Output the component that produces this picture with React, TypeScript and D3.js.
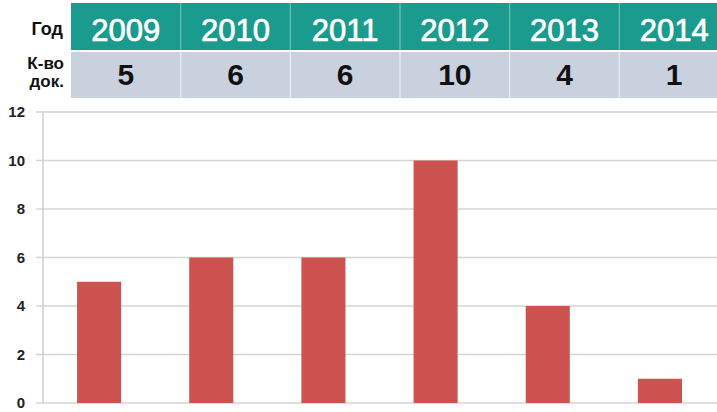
import React from "react";
import * as d3 from "d3";

const years = ["2009", "2010", "2011", "2012", "2013", "2014"];
const counts = [5, 6, 6, 10, 4, 1];
const yTicks = [0, 2, 4, 6, 8, 10, 12];
const rowLabels = ["Год", "К-во", "док."];

const W = 717;
const H = 412;

export default function App() {
  const x = d3
    .scaleBand<string>()
    .domain(years)
    .range([43, 716])
    .paddingInner(0.607)
    .paddingOuter(0.3035);
  const y = d3.scaleLinear().domain([0, 12]).range([403, 112]);
  const tx = d3.scaleBand<string>().domain(years).range([71, 729]);

  const font = "Arial, 'Liberation Sans', sans-serif";

  return (
    <svg
      width={W}
      height={H}
      style={{ position: "absolute", left: 0, top: 0, background: "#fff" }}
      fontFamily={font}
    >
      <rect x={0} y={0} width={W} height={H} fill="#fff" />
      {/* table */}
      <rect x={71} y={3} width={W - 71} height={47} fill="#1b9b8d" />
      <rect x={71} y={52} width={W - 71} height={46} fill="#c9d0de" />
      {years.map((yr, i) => (
        <g key={yr}>
          {i > 0 && (
            <>
              <line x1={tx(yr)!} x2={tx(yr)!} y1={3} y2={50} stroke="#5dbcb1" strokeWidth={1.5} />
              <line x1={tx(yr)!} x2={tx(yr)!} y1={52} y2={98} stroke="#e6eaf1" strokeWidth={1.5} />
            </>
          )}
          <text
            x={tx(yr)! + tx.bandwidth() / 2}
            y={41}
            textAnchor="middle"
            fill="#fff"
            stroke="#fff"
            strokeWidth={0.7}
            fontSize={31}
          >
            {yr}
          </text>
          <text
            x={tx(yr)! + tx.bandwidth() / 2}
            y={85}
            textAnchor="middle"
            fill="#111"
            fontSize={30}
            fontWeight="bold"
          >
            {counts[i]}
          </text>
        </g>
      ))}
      <text x={63} y={35} textAnchor="end" fontSize={18} fontWeight="bold" fill="#111">
        {rowLabels[0]}
      </text>
      <text x={64} y={69} textAnchor="end" fontSize={17} fontWeight="bold" fill="#111">
        {rowLabels[1]}
      </text>
      <text x={64} y={87} textAnchor="end" fontSize={17} fontWeight="bold" fill="#111">
        {rowLabels[2]}
      </text>

      {/* grid */}
      {yTicks.map((t) => (
        <g key={t}>
          <line x1={36} x2={W} y1={y(t)} y2={y(t)} stroke="#d4d4d4" strokeWidth={1.5} />
          <text
            x={25}
            y={y(t) + 5}
            textAnchor="end"
            fontSize={15}
            fontWeight="bold"
            fill="#222"
          >
            {t}
          </text>
        </g>
      ))}
      <line x1={43} x2={43} y1={y(12)} y2={y(0)} stroke="#cfcfcf" strokeWidth={1.5} />

      {/* bars */}
      {years.map((yr, i) => (
        <rect
          key={yr}
          x={x(yr)!}
          y={y(counts[i])}
          width={x.bandwidth()}
          height={y(0) - y(counts[i])}
          fill="#cd5350"
        />
      ))}
    </svg>
  );
}
